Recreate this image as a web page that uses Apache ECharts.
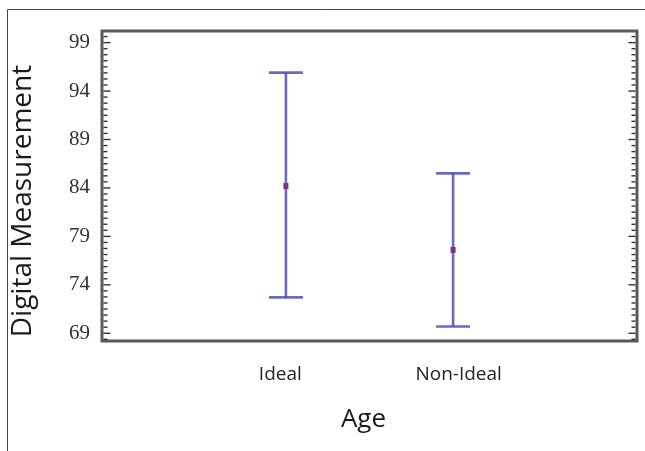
<!DOCTYPE html>
<html>
<head>
<meta charset="utf-8">
<script src="https://cdn.jsdelivr.net/npm/echarts@6/dist/echarts.min.js"></script>
<style>
  html, body { margin: 0; padding: 0; background: #fff; }
  #chart { width: 645px; height: 451px; }
</style>
</head>
<body>
<div id="chart"></div>
<script>
// Group names along the x axis
const categories = ['Ideal', 'Non-Ideal'];
// Interval for each group: lower bound, mean, upper bound
const lowerBounds = [72.7, 69.7];
const means = [84.2, 77.6];
const upperBounds = [95.9, 85.5];
// Labelled ticks on the value axis
const yTickLabels = [69, 74, 79, 84, 89, 94, 99];

const yMin = 68.2, yMax = 100.2;

// Tick marks on both vertical edges: [value, isMajor]
const yTicks = [];
yTickLabels.forEach(v => yTicks.push([v, 1]));
for (let i = 0; i < yTickLabels.length - 1; i++) {
  const a = yTickLabels[i], b = yTickLabels[i + 1];
  for (let k = 1; k < 8; k++) yTicks.push([a + (b - a) * k / 8, 0]);
}
yTicks.push([69 - 0.625, 0], [99 + 0.625, 0]);

const rows = categories.map((c, i) => [i + 1, lowerBounds[i], means[i], upperBounds[i]]);

const barColor = 'rgba(72, 72, 180, 0.82)';
const meanColor = '#8a2a90';

const chart = echarts.init(document.getElementById('chart'), null, { renderer: 'canvas' });
chart.setOption({
  animation: false,
  backgroundColor: '#fff',
  grid: {
    left: 102, top: 31, right: 8, bottom: 110,
    show: true, borderColor: '#5a5a5a', borderWidth: 3, backgroundColor: 'transparent'
  },
  graphic: [
    {
      type: 'rect', silent: true, z: -1,
      shape: { x: 7.5, y: 9.5, width: 700, height: 500 },
      style: { fill: 'none', stroke: '#444', lineWidth: 1 }
    },
    {
      type: 'text', x: 23, y: 201, rotation: Math.PI / 2,
      style: {
        text: 'Digital Measurement', fontFamily: 'Open Sans', fontSize: 28,
        fill: '#1a1a1a', align: 'center', verticalAlign: 'middle'
      }
    }
  ],
  xAxis: [
    {
      type: 'value', min: -0.1, max: 3.1, position: 'bottom',
      axisLine: { show: false }, axisTick: { show: false },
      axisLabel: { show: false }, splitLine: { show: false }
    },
    {
      type: 'value', min: 0, max: 3, position: 'bottom',
      axisLine: { show: false }, axisTick: { show: false }, splitLine: { show: false },
      axisLabel: {
        customValues: categories.map((c, i) => i + 1),
        formatter: v => categories[Math.round(v) - 1] || '',
        margin: 24, fontFamily: 'Open Sans', fontSize: 19, color: '#222'
      },
      name: 'Age', nameLocation: 'middle', nameGap: 66,
      nameTextStyle: { fontFamily: 'Open Sans', fontSize: 26, color: '#1a1a1a', padding: [0, 12, 0, 0] }
    }
  ],
  yAxis: {
    type: 'value', position: 'left', min: yMin, max: yMax,
    axisLine: { show: false },
    splitLine: { show: false },
    axisTick: { show: false },
    axisLabel: {
      customValues: yTickLabels, margin: 12,
      fontFamily: 'Liberation Serif', fontSize: 21, color: '#333'
    }
  },
  series: [
    {
      // tick marks pointing inward from the left and right frame edges
      type: 'custom',
      xAxisIndex: 0, yAxisIndex: 0,
      data: yTicks,
      encode: { y: 0 },
      silent: true,
      z: 3,
      renderItem: function (params, api) {
        const cs = params.coordSys;
        const y = api.coord([0, api.value(0)])[1];
        const len = api.value(1) ? 7 : 4;
        const st = { stroke: '#333', lineWidth: 1.4 };
        const xl = cs.x + 1.5, xr = cs.x + cs.width - 1.5;
        return {
          type: 'group',
          children: [
            { type: 'line', shape: { x1: xl, y1: y, x2: xl + len, y2: y }, style: st },
            { type: 'line', shape: { x1: xr, y1: y, x2: xr - len, y2: y }, style: st }
          ]
        };
      }
    },
    {
      type: 'custom',
      xAxisIndex: 0, yAxisIndex: 0,
      data: rows,
      encode: { x: 0, y: [1, 2, 3] },
      renderItem: function (params, api) {
        const x = api.value(0);
        const lo = api.coord([x, api.value(1)]);
        const mid = api.coord([x, api.value(2)]);
        const hi = api.coord([x, api.value(3)]);
        const half = 17;
        const ls = { stroke: barColor, lineWidth: 2.6 };
        return {
          type: 'group',
          children: [
            { type: 'line', shape: { x1: lo[0], y1: lo[1], x2: hi[0], y2: hi[1] }, style: ls },
            { type: 'line', shape: { x1: hi[0] - half, y1: hi[1], x2: hi[0] + half, y2: hi[1] }, style: ls },
            { type: 'line', shape: { x1: lo[0] - half, y1: lo[1], x2: lo[0] + half, y2: lo[1] }, style: ls },
            { type: 'rect', shape: { x: mid[0] - 2.5, y: mid[1] - 3, width: 5, height: 6 },
              style: { fill: meanColor } }
          ]
        };
      }
    }
  ]
});
</script>
</body>
</html>
